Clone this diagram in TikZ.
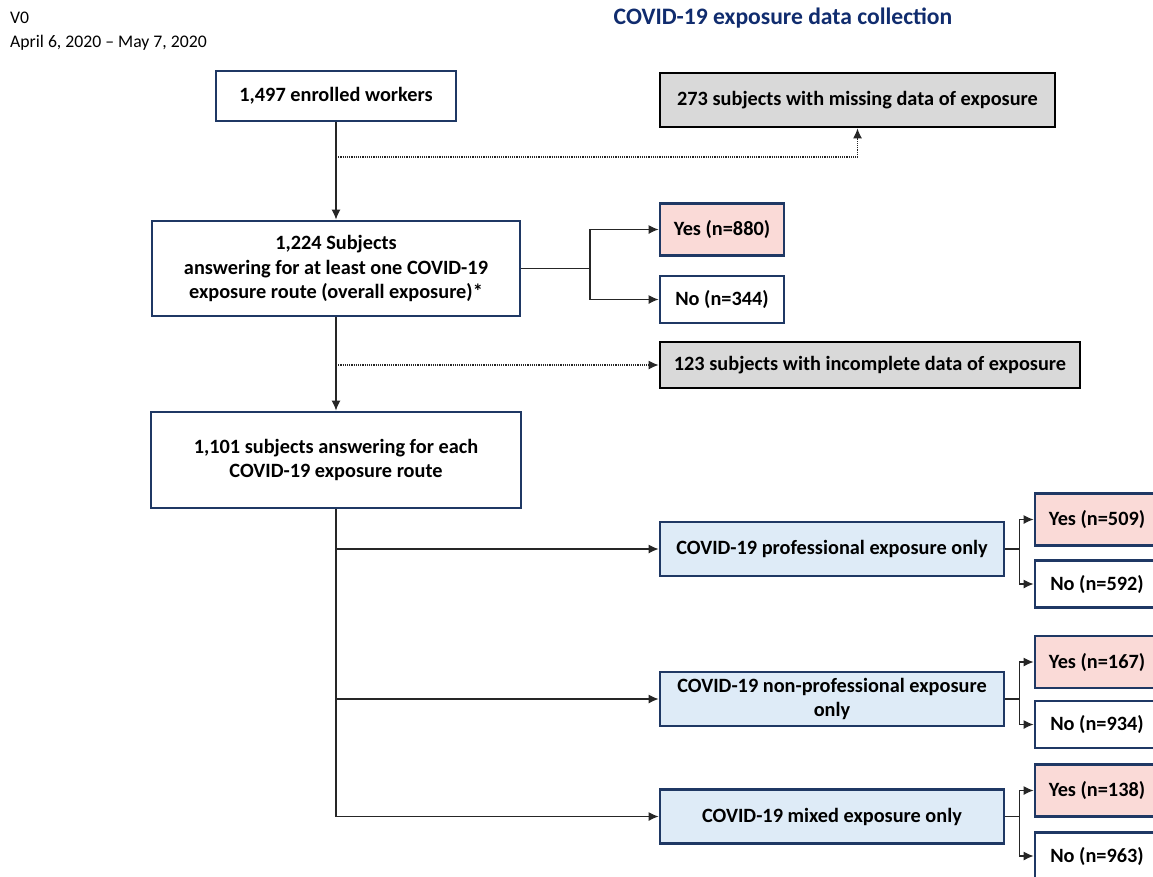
\documentclass[tikz,border=0pt]{standalone}
\usepackage{fontspec}
\setmainfont{Carlito}
\usetikzlibrary{arrows.meta}
\definecolor{boxnavy}{RGB}{31,56,100}
\definecolor{titlenavy}{RGB}{16,44,110}
\definecolor{missgrey}{RGB}{217,217,217}
\definecolor{yespink}{RGB}{250,218,215}
\definecolor{routeblue}{RGB}{222,235,247}

\begin{document}
\begin{tikzpicture}[x=1pt, y=-1pt,
  box/.style={draw=boxnavy, line width=2.8pt, fill=white, align=center, inner sep=0pt,
    font=\fontsize{20.3}{24.5}\selectfont\bfseries},
  missbox/.style={box, draw=black, fill=missgrey},
  yesbox/.style={box, fill=yespink, minimum width=124pt, minimum height=52pt},
  nobox/.style={box, minimum width=124pt, minimum height=47pt},
  routebox/.style={box, fill=routeblue, minimum width=344pt, minimum height=54pt},
  link/.style={black!85, line width=1.2pt},
  flow/.style={link, -{Latex[length=10pt, width=9pt]}},
  missflow/.style={flow, densely dotted}
]
\useasboundingbox (0,0) rectangle (1153,876);

% header
\node[anchor=north west, align=left, inner sep=0pt, font=\fontsize{17.7}{24}\selectfont] (visit) at (10,12) {V0\\April 6, 2020 -- May 7, 2020};
\node[font=\fontsize{23.6}{26}\selectfont\bfseries, text=titlenavy] (title) at (783,18) {COVID-19 exposure data collection};

% enrolment and exclusions
\node[box, minimum width=240pt, minimum height=50pt] (enrolled) at (336,96) {1,497 enrolled workers};
\node[missbox, minimum width=395pt, minimum height=54pt] (missing) at (857.5,100) {273 subjects with missing data of exposure};
\node[box, minimum width=368pt, minimum height=95pt] (overall) at (336,268.5) {1,224 Subjects\\answering for at least one COVID-19\\exposure route (overall exposure)*};
\node[yesbox] (overall-yes) at (722,229.5) {Yes (n=880)};
\node[nobox] (overall-no) at (722,299.5) {No (n=344)};
\node[missbox, minimum width=420pt, minimum height=46pt] (incomplete) at (870,365) {123 subjects with incomplete data of exposure};
\node[box, minimum width=370pt, minimum height=96pt] (each) at (336,460) {1,101 subjects answering for each\\COVID-19 exposure route};

% exposure routes
\node[routebox] (prof) at (832,549) {COVID-19 professional exposure only};
\node[yesbox] (prof-yes) at (1097,519.5) {Yes (n=509)};
\node[nobox] (prof-no) at (1097,584) {No (n=592)};
\node[routebox] (nonprof) at (832,699) {COVID-19 non-professional exposure\\only};
\node[yesbox] (nonprof-yes) at (1097,662) {Yes (n=167)};
\node[nobox] (nonprof-no) at (1097,724.5) {No (n=934)};
\node[routebox] (mixed) at (832,816.5) {COVID-19 mixed exposure only};
\node[yesbox] (mixed-yes) at (1097,790.5) {Yes (n=138)};
\node[nobox] (mixed-no) at (1097,856) {No (n=963)};

% connectors
\draw[flow] (enrolled) -- (overall);
\coordinate (gap1) at (336,157);
\draw[missflow] (gap1) -| (missing);

\coordinate (fork1) at (590,268.5);
\draw[link] (overall) -- (fork1);
\draw[flow] (fork1) |- (overall-yes);
\draw[flow] (fork1) |- (overall-no);

\draw[flow] (overall) -- (each);
\coordinate (gap2) at (336,365);
\draw[missflow] (gap2) -- (incomplete);

\coordinate (trunk) at (336,816.5);
\draw[link] (each) -- (trunk);
\draw[flow] (each.south |- prof) -- (prof);
\draw[flow] (each.south |- nonprof) -- (nonprof);
\draw[flow] (trunk) -- (mixed);

\draw[link] (prof.east) -- ++(14,0) coordinate (prof-fork);
\draw[flow] (prof-fork) |- (prof-yes);
\draw[flow] (prof-fork) |- (prof-no);
\draw[link] (nonprof.east) -- ++(14,0) coordinate (nonprof-fork);
\draw[flow] (nonprof-fork) |- (nonprof-yes);
\draw[flow] (nonprof-fork) |- (nonprof-no);
\draw[link] (mixed.east) -- ++(14,0) coordinate (mixed-fork);
\draw[flow] (mixed-fork) |- (mixed-yes);
\draw[flow] (mixed-fork) |- (mixed-no);
\end{tikzpicture}
\end{document}
